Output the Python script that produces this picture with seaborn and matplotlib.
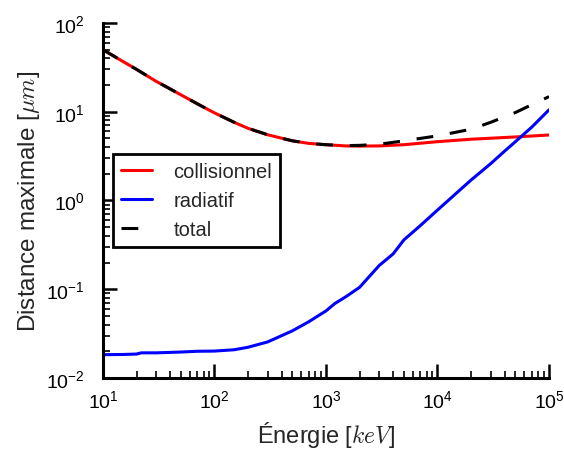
import pandas as pd
import matplotlib
matplotlib.use('Agg')
import matplotlib.pyplot as plt
import seaborn as sns

# Valeurs (énergie en keV, distance en µm)
energie_col = [10, 15, 20, 30, 50, 70, 100, 150, 200, 300, 500, 700, 1000, 1500,
               2000, 3000, 5000, 10000, 20000, 50000, 100000]
dist_col = [50, 37, 30, 22, 15.5, 12.3, 9.7, 7.6, 6.5, 5.5, 4.7, 4.4, 4.25, 4.12,
            4.1, 4.12, 4.25, 4.6, 4.9, 5.2, 5.47]

energie_rad = [10, 15, 20, 22, 30, 50, 70, 100, 150, 200, 300, 500, 700, 1000, 1200,
               1500, 2000, 3000, 4000, 5000, 7000, 10000, 20000, 30000, 40000,
               50000, 70000, 100000]
dist_rad = [0.0183, 0.0184, 0.0186, 0.0192, 0.0192, 0.0196, 0.0200, 0.0201, 0.0208,
            0.0222, 0.0255, 0.034, 0.043, 0.057, 0.069, 0.082, 0.105, 0.185, 0.25,
            0.36, 0.52, 0.78, 1.7, 2.6, 3.6, 4.6, 6.7, 10.5]

energie_tot = [10, 15, 20, 30, 50, 70, 100, 150, 200, 300, 500, 700, 1000, 1500,
               2000, 3000, 5000, 10000, 20000, 30000, 50000, 70000, 100000]
dist_tot = [50, 37, 30, 22, 15.5, 12.3, 9.7, 7.6, 6.5, 5.5, 4.7, 4.4, 4.25, 4.15,
            4.18, 4.3, 4.7, 5.35, 6.35, 7.6, 9.8, 12.0, 14.8]

sns.set_style('ticks')
plt.rcParams['font.family'] = ['Liberation Sans', 'DejaVu Sans']
plt.rcParams['mathtext.fontset'] = 'cm'
plt.rcParams['axes.unicode_minus'] = False
plt.rcParams['xtick.direction'] = 'in'
plt.rcParams['ytick.direction'] = 'in'

fig = plt.figure(figsize=(5.64, 4.56), dpi=100)
ax = fig.add_axes([0.1826, 0.1689, 0.7908, 0.7785])

sns.lineplot(x=energie_col, y=dist_col, ax=ax, color='red', linewidth=2.2, label='collisionnel')
sns.lineplot(x=energie_rad, y=dist_rad, ax=ax, color='blue', linewidth=2.2, label='radiatif')
sns.lineplot(x=energie_tot, y=dist_tot, ax=ax, color='black', linewidth=2.2,
             linestyle=(0, (5.5, 5.5)), label='total')

ax.set_xscale('log')
ax.set_yscale('log')
ax.set_xlim(10, 1e5)
ax.set_ylim(1e-2, 1e2)

for s in ['top', 'right']:
    ax.spines[s].set_visible(False)
for s in ['left', 'bottom']:
    ax.spines[s].set_linewidth(2.2)
    ax.spines[s].set_color('black')
ax.tick_params(which='major', length=10, width=1.8, labelsize=14, colors='black')
ax.tick_params(which='minor', length=5, width=1.2, colors='black')
ax.tick_params(axis='y', which='major', pad=13)
ax.tick_params(axis='x', which='major', pad=8)

ax.set_xlabel(r'Énergie [$keV$]', fontsize=17, labelpad=6)
ax.set_ylabel(r'Distance maximale [$\mu m$]', fontsize=17.5, labelpad=3)

leg = ax.legend(loc='center left', bbox_to_anchor=(0.0, 0.5), fontsize=14.5,
                handlelength=1.55, handletextpad=1.05, fancybox=False, framealpha=1,
                borderaxespad=0.5, labelspacing=0.5)
leg.get_frame().set_edgecolor('black')
leg.get_frame().set_linewidth(2)

plt.savefig('out.png', dpi=100)
